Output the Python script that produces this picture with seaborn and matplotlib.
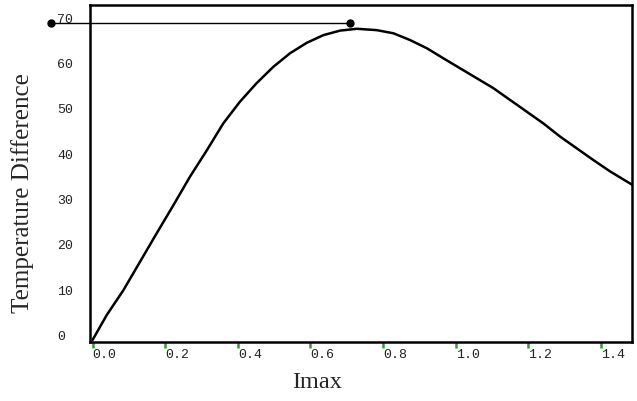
import matplotlib
matplotlib.use("Agg")
import matplotlib.pyplot as plt
import seaborn as sns
import pandas as pd

imax = [0.0, 0.039, 0.085, 0.131, 0.177, 0.223, 0.268, 0.315, 0.360, 0.406, 0.452,
        0.498, 0.544, 0.590, 0.636, 0.682, 0.728, 0.783, 0.829, 0.875, 0.921,
        0.966, 1.012, 1.058, 1.104, 1.150, 1.196, 1.242, 1.288, 1.334, 1.380,
        1.426, 1.488]
temp_diff = [0.0, 5.5, 11.0, 17.3, 23.6, 29.8, 36.0, 41.9, 47.8, 52.6, 56.7,
             60.3, 63.3, 65.6, 67.3, 68.3, 68.7, 68.4, 67.7, 66.2, 64.4,
             62.2, 60.0, 57.8, 55.6, 53.0, 50.4, 47.8, 44.9, 42.3, 39.7,
             37.2, 34.2]
peak_line_x = [-0.114, 0.709]
peak_line_y = [70.0, 70.0]
xticks = [0.0, 0.2, 0.4, 0.6, 0.8, 1.0, 1.2, 1.4]
yticks = [0, 10, 20, 30, 40, 50, 60, 70]

sns.set_style("white")
plt.rcParams['font.family'] = ['DejaVu Sans']

df = pd.DataFrame({"Imax": imax, "Temperature Difference": temp_diff})

fig = plt.figure(figsize=(6.37, 4.01), dpi=100)
ax = fig.add_axes([90/637, 59/401, 542/637, 337/401])

sns.lineplot(data=df, x="Imax", y="Temperature Difference", ax=ax,
             color="black", linewidth=1.8)
ax.plot(peak_line_x, peak_line_y, color="black", linewidth=1.0,
        marker="o", markersize=5, clip_on=False, zorder=5)

ax.set_xlim(-0.007, 1.486)
ax.set_ylim(-0.44, 73.95)
ax.set_xticks(xticks)
ax.set_xticklabels([f"{t:.1f}" for t in xticks])
ax.set_yticks(yticks)
ax.set_yticklabels([str(t) for t in yticks])

for lab in ax.get_xticklabels():
    lab.set_fontfamily('Liberation Mono')
    lab.set_fontsize(9.5)
    lab.set_color('#222222')
    lab.set_horizontalalignment('left')
for lab in ax.get_yticklabels():
    lab.set_fontfamily('Liberation Mono')
    lab.set_fontsize(9.5)
    lab.set_color('#222222')
    lab.set_horizontalalignment('left')
    lab.set_verticalalignment('baseline')

ax.tick_params(axis='x', bottom=True, direction='out', length=4, width=1.8,
               color='#2e9e2e', pad=1)
ax.tick_params(axis='y', left=False, length=0, pad=23.8)

for s in ax.spines.values():
    s.set_color("black")
    s.set_linewidth(1.8)

ax.set_xlabel("Imax", fontfamily="Liberation Serif", fontsize=17.5)
ax.xaxis.set_label_coords((317 - 90) / 542, (342 - 383) / 337)
ax.xaxis.label.set_verticalalignment('center')
ax.set_ylabel("Temperature Difference", fontfamily="Liberation Serif", fontsize=18)
ax.yaxis.set_label_coords((23 - 90) / 542, (342 - 193.5) / 337)
ax.yaxis.label.set_verticalalignment('center')

fig.savefig("out.png", dpi=100)
